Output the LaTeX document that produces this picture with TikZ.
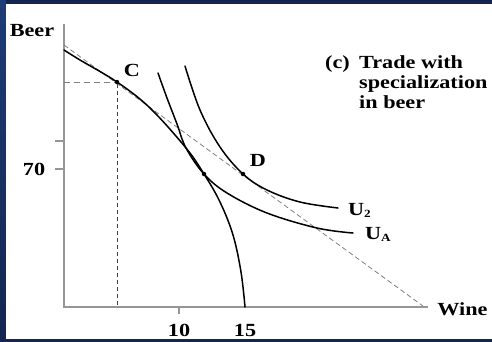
\documentclass[tikz,border=0pt]{standalone}
\usepackage{fontspec}
\setmainfont{Liberation Serif}
\definecolor{navyA}{RGB}{20,38,80}
\definecolor{navyB}{RGB}{30,60,118}
\definecolor{axisgray}{RGB}{150,150,150}
\newcommand\sx[1]{\scalebox{1.2}[1]{#1}}
\newcommand\sbs[1]{\raisebox{-2.5pt}{\fontsize{11}{11}\selectfont #1}}
\begin{document}
\begin{tikzpicture}[x=1pt,y=-1pt,
  curve/.style={line width=1.5pt, black, line cap=round},
  axisline/.style={line width=1.3pt, axisgray},
  lbl/.style={font=\fontsize{18.5}{20}\selectfont\bfseries, inner sep=0pt, text=black},
  dot/.style={circle, fill=black, inner sep=0pt, minimum size=4.5pt}]
\useasboundingbox (0,0) rectangle (492,341);
\shade[top color=navyB, bottom color=navyA] (0,0) rectangle (492,341);
\fill[navyA] (6,0) rectangle (492,4);
\fill[white] (6,4) rectangle (492,339);
% axes
\coordinate (ytop) at (64,24);
\coordinate (O) at (64,307);
\coordinate (xend) at (428,307);
\draw[axisline] (ytop) -- (O) -- (xend);
\coordinate (t1a) at (55,141); \coordinate (t1b) at (64,141);
\coordinate (t2a) at (55,169); \coordinate (t2b) at (64,169);
\coordinate (t3a) at (179,307); \coordinate (t3b) at (179,314);
\draw[axisline] (t1a) -- (t1b) (t2a) -- (t2b) (t3a) -- (t3b);
% budget line
\coordinate (b1) at (64,45);
\coordinate (b2) at (423,306);
\draw[gray, line width=0.8pt, dash pattern=on 5pt off 3pt] (b1) -- (b2);
% points
\node[dot] (C) at (117,82) {};
\node[dot] (A) at (204,174) {};
\node[dot] (D) at (243,174) {};
% guides from C
\coordinate (cy) at (64,82);
\coordinate (cx) at (117,307);
\draw[gray, line width=0.9pt, dash pattern=on 6pt off 4pt] (cy) -- (C);
\draw[black!75, line width=0.8pt, dash pattern=on 4pt off 3pt] (C) -- (cx);
% PPF
\draw[curve] plot[smooth, tension=0.6] coordinates {(64,50) (80,60) (117,82) (150,108) (186,148) (204,174) (220,202) (233,235) (241,272) (245,307)};
% UA
\draw[curve] plot[smooth, tension=0.6] coordinates {(158,73) (167,98) (177,124) (186,148) (204,174) (227,193) (267,213) (317,228) (353,233)};
% U2
\draw[curve] plot[smooth, tension=0.6] coordinates {(185,66) (200,110) (220,147) (243,174) (267,190) (300,202) (338,208)};
% labels
\node[lbl, anchor=base] (beer) at (32,36.5) {\sx{Beer}};
\node[lbl, anchor=base] (l70) at (34,175) {\sx{70}};
\node[lbl, anchor=base] (l10) at (179,336) {\sx{10}};
\node[lbl, anchor=base] (l15) at (245,336) {\sx{15}};
\node[lbl, anchor=base] (wine) at (462.5,315) {\sx{Wine}};
\node[lbl, anchor=base] (lc) at (132,76) {\sx{C}};
\node[lbl, anchor=base] (ld) at (258,166.5) {\sx{D}};
\node[lbl, anchor=base west] (u2) at (348,215) {\sx{U\sbs{2}}};
\node[lbl, anchor=base west] (ua) at (365,239) {\sx{U\sbs{A}}};
\node[lbl, anchor=base west] (tc) at (325,68.3) {\sx{(c)}};
\node[lbl, anchor=base west] (t1) at (359,68.3) {\sx{Trade with}};
\node[lbl, anchor=base west] (t2) at (359,88.3) {\sx{specialization}};
\node[lbl, anchor=base west] (t3) at (359,108.3) {\sx{in beer}};
\end{tikzpicture}
\end{document}
